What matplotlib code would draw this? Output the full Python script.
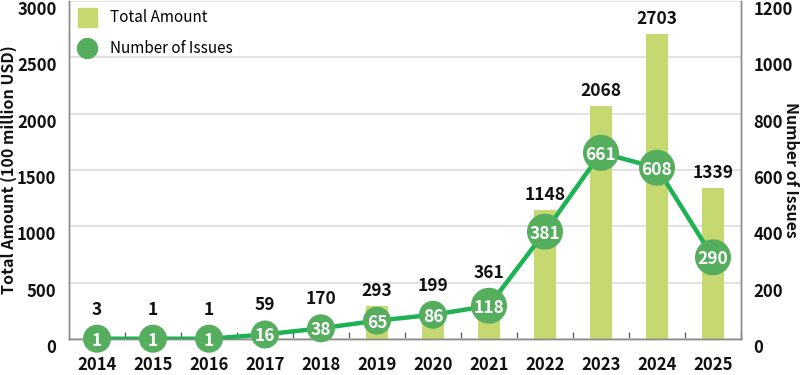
import matplotlib
matplotlib.use("Agg")
import matplotlib.pyplot as plt
from matplotlib.lines import Line2D
from matplotlib.transforms import ScaledTranslation

plt.rcParams['font.family'] = ['Noto Sans CJK JP', 'DejaVu Sans']

years = ['2014', '2015', '2016', '2017', '2018', '2019', '2020', '2021',
         '2022', '2023', '2024', '2025']
amounts = [3, 1, 1, 59, 170, 293, 199, 361, 1148, 2068, 2703, 1339]
issues = [1, 1, 1, 16, 38, 65, 86, 118, 381, 661, 608, 290]
left_ticks = [0, 500, 1000, 1500, 2000, 2500, 3000]
right_ticks = [0, 200, 400, 600, 800, 1000, 1200]

BAR = '#c5d970'
LINE = '#1db354'
DOT = '#55ad5e'
SPINE = '#8a8a8a'
GRID = '#dddddd'

W, H = 800, 375
fig = plt.figure(figsize=(W / 100, H / 100), dpi=100)
ax_l, ax_b, ax_w, ax_h = 69, 36, 672, 338
ax = fig.add_axes([ax_l / W, ax_b / H, ax_w / W, ax_h / H])
ax2 = ax.twinx()

x = list(range(len(years)))
ax.bar(x, amounts, width=0.41, color=BAR, zorder=2)
ax.set_xlim(-0.5, len(years) - 0.5)
ax.set_ylim(0, 3000)
ax2.set_ylim(0, 1200)

ax.set_yticks(left_ticks)
ax2.set_yticks(right_ticks)
ax.set_xticks(x)
ax.set_xticklabels(years)
ax.set_xticks([i + 0.5 for i in x], minor=True)

ax.yaxis.grid(True, color=GRID, linewidth=1.2, zorder=0)
ax.set_axisbelow(True)

for a in (ax, ax2):
    for s in a.spines.values():
        s.set_color(SPINE)
        s.set_linewidth(1.0)
    a.spines['top'].set_visible(False)

ax.tick_params(axis='x', which='major', length=0, pad=12, labelsize=12)
ax.tick_params(axis='x', which='minor', direction='in', length=5, color='#555555', width=0.9)
ax.tick_params(axis='y', length=0, pad=9, labelsize=12)
ax2.tick_params(axis='y', length=0, pad=9, labelsize=12)
for lab in ax.get_xticklabels() + ax.get_yticklabels() + ax2.get_yticklabels():
    lab.set_fontweight('bold')
    lab.set_color('#111111')
for lab in ax.get_yticklabels() + ax2.get_yticklabels():
    lab.set_transform(lab.get_transform() + ScaledTranslation(0, -5 / 72, fig.dpi_scale_trans))

ax.set_ylabel('Total Amount (100 million USD)', fontsize=11.5, fontweight='bold',
              color='#111111', va='center')
ax2.set_ylabel('Number of Issues', fontsize=11.5, fontweight='bold',
               color='#111111', rotation=-90, va='center')
ax.yaxis.set_label_coords((9 - ax_l) / ax_w, 0.5)
ax2.yaxis.set_label_coords((791 - ax_l) / ax_w, 0.5)

# line + circles
ax2.plot(x, issues, color=LINE, linewidth=3.2, zorder=3, solid_capstyle='round')
sizes = [(36 if len(str(v)) >= 3 else 28) for v in issues]
ax2.scatter(x, issues, s=[(d * 0.72) ** 2 for d in sizes], color=DOT, zorder=4,
            linewidths=0, clip_on=False)
for xi, v in zip(x, issues):
    ax2.text(xi, v, str(v), color='white', fontsize=12.5, fontweight='bold',
             ha='center', va='center_baseline', zorder=5, clip_on=False)

# amount labels above max(bar top, circle top)
px_per_unit = ax_h / 3000
for xi, a, v, d in zip(x, amounts, issues, sizes):
    circ_top_rel = (v * 2.5 - a) * px_per_unit + d / 2
    off_px = max(0, circ_top_rel) + 10
    ax.annotate(str(a), xy=(xi, a), xytext=(0, off_px * 0.72), textcoords='offset points',
                ha='center', va='baseline', fontsize=12.5, fontweight='bold',
                color='#111111', zorder=6, annotation_clip=False)

# legend
handles = [Line2D([], [], marker='s', linestyle='', color=BAR, markersize=19 * 0.72),
           Line2D([], [], marker='o', linestyle='', color=DOT, markersize=20 * 0.72)]
leg = ax2.legend(handles, ['Total Amount', 'Number of Issues'], loc='upper left',
                 bbox_to_anchor=(70 / W, 1 - 3 / H), bbox_transform=fig.transFigure,
                 frameon=False, fontsize=11, handletextpad=0.85, labelspacing=0.9,
                 borderaxespad=0, handlelength=1.4)

fig.savefig('out.png', dpi=100)
